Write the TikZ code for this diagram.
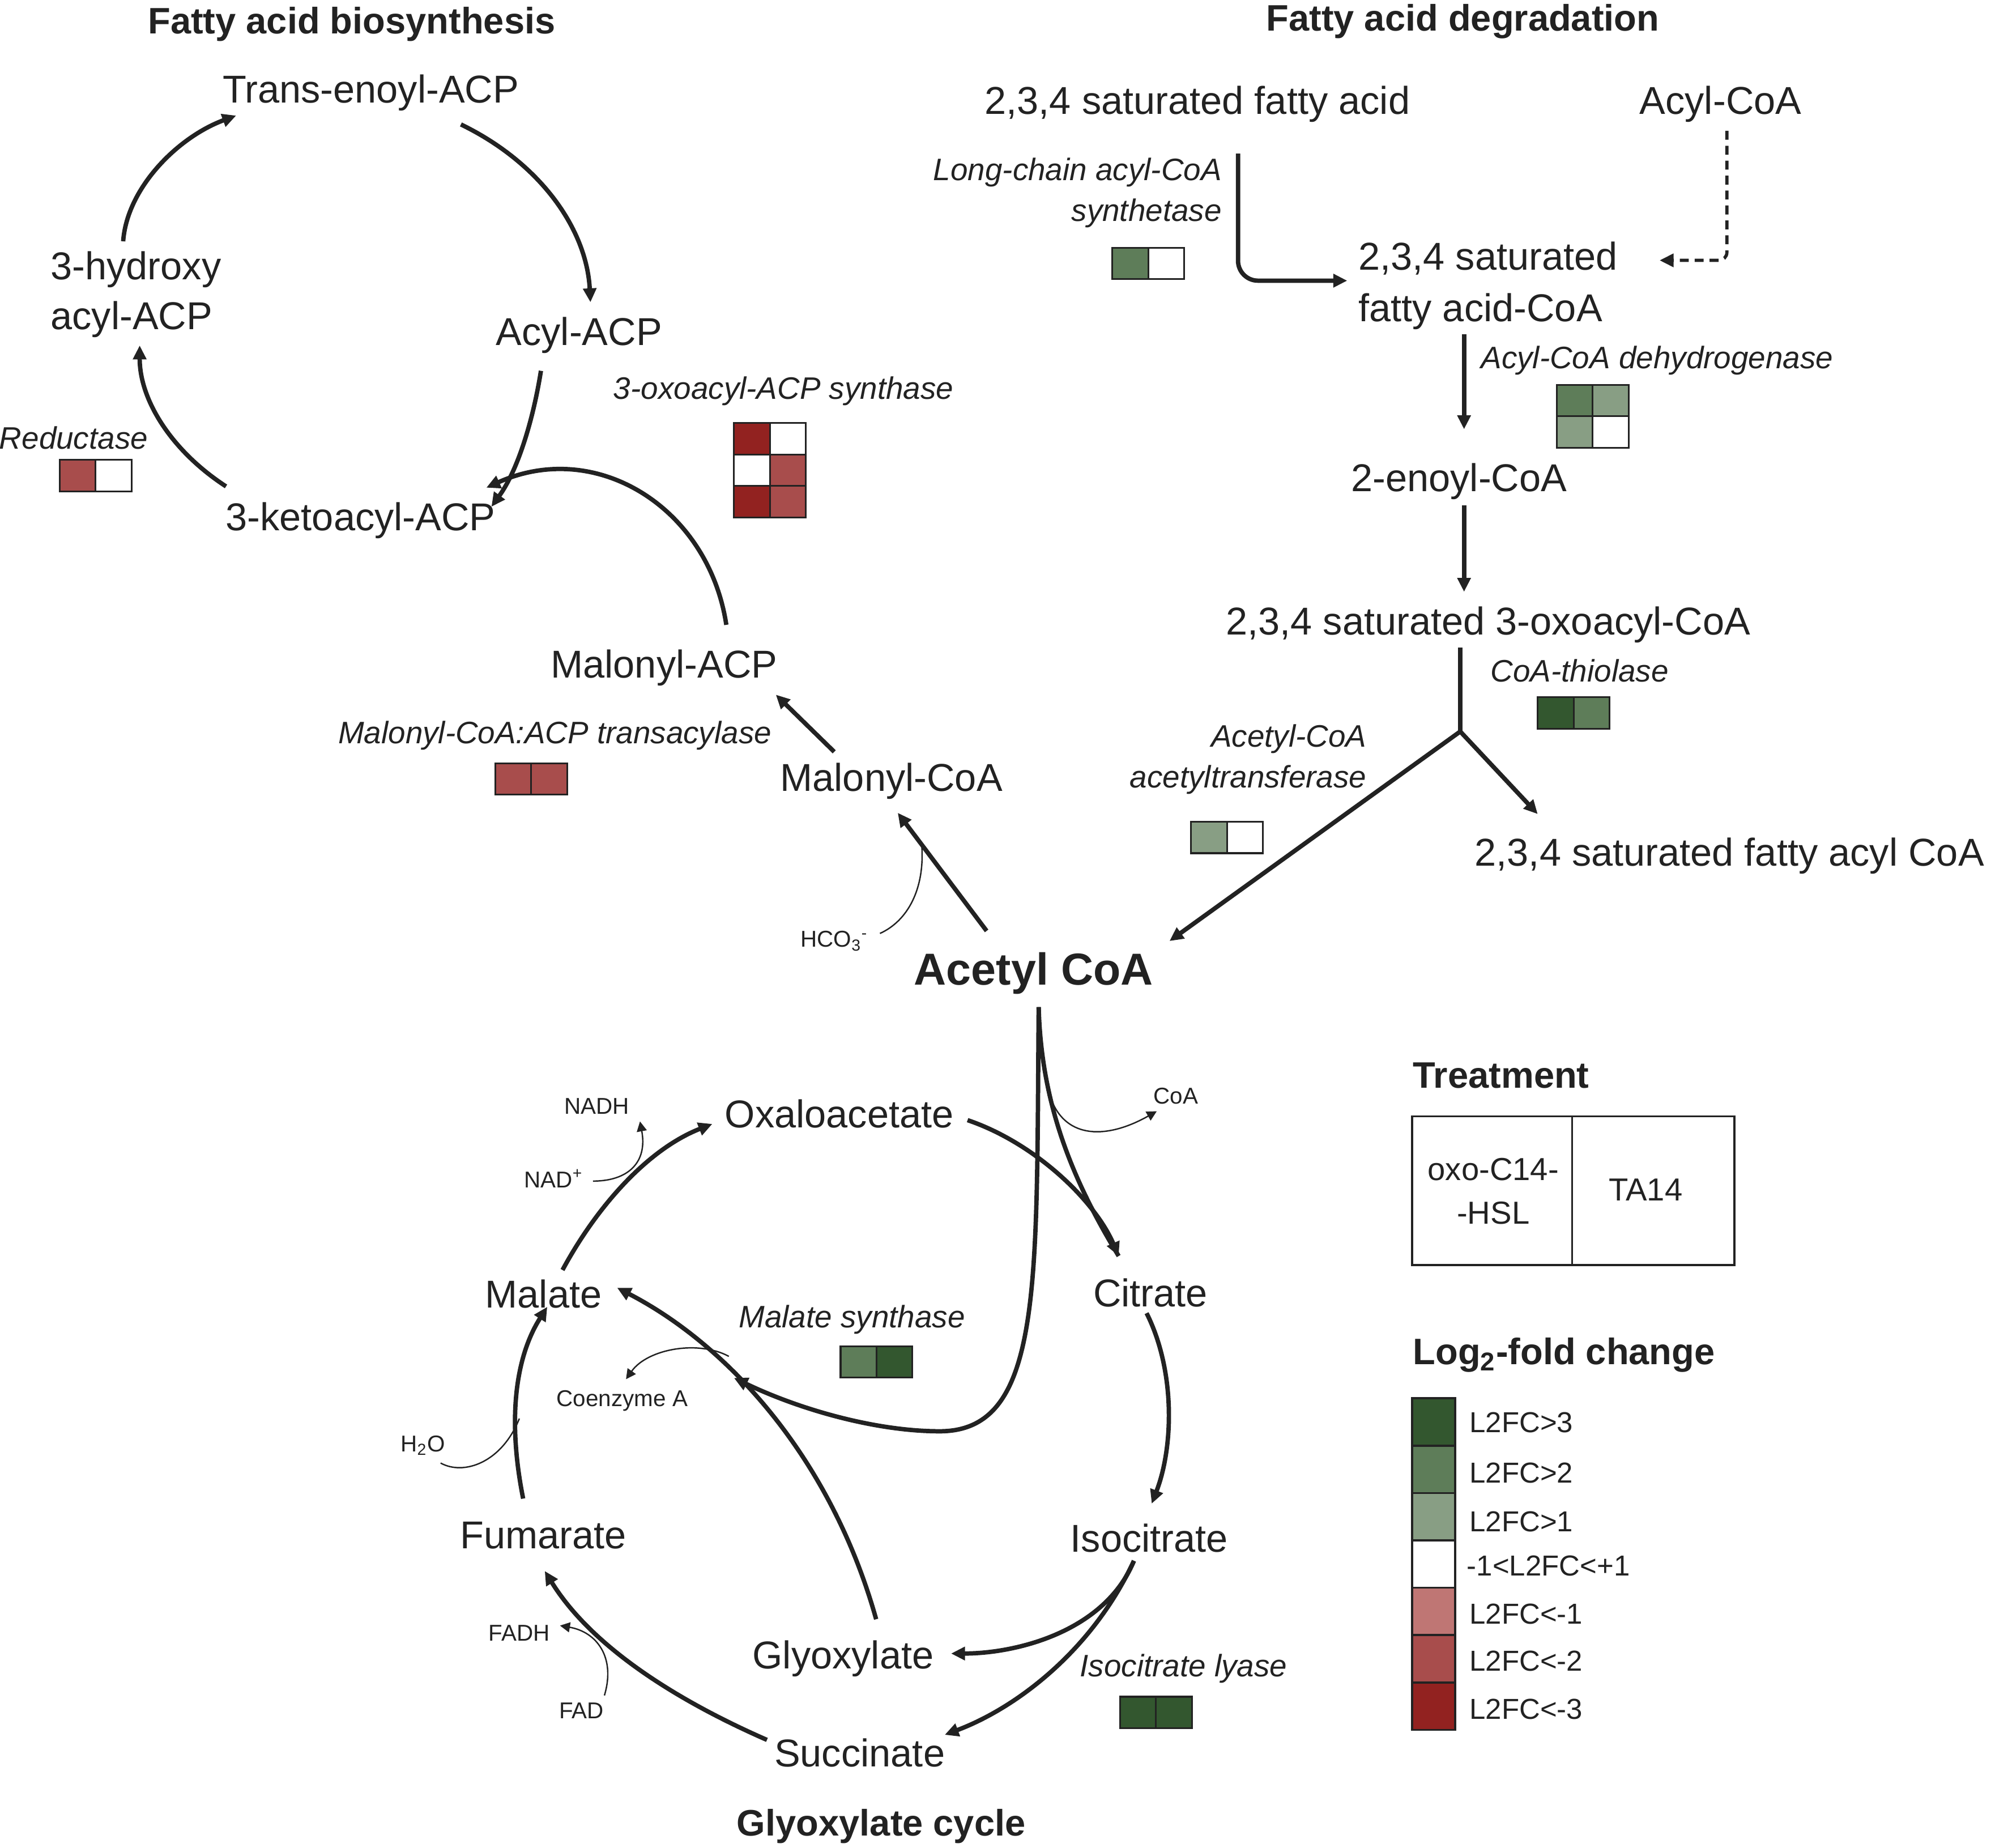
\documentclass[tikz,border=0pt]{standalone}
\usepackage{fontspec}
\setmainfont{Liberation Sans}
\usetikzlibrary{arrows.meta}
\definecolor{tc}{HTML}{222222}
\definecolor{dg}{HTML}{33572F}
\definecolor{mg}{HTML}{5E7D59}
\definecolor{lg}{HTML}{889E84}
\definecolor{lr}{HTML}{BF7674}
\definecolor{mr}{HTML}{A84D4C}
\definecolor{dr}{HTML}{922220}
\newcommand{\hcell}[3]{\filldraw[fill=#3,draw=tc,line width=0.9pt] (#1,#2) rectangle ++(28.3,24.8);}
\begin{document}
\begin{tikzpicture}[x=0.022417cm,y=-0.022417cm,
  met/.style={font=\fontsize{19.5}{24}\selectfont, text=tc, inner sep=1pt, yshift=-1.9pt},
  enz/.style={font=\fontsize{15.6}{20.5}\selectfont\itshape, text=tc, inner sep=1pt, yshift=-0.6pt},
  small/.style={font=\fontsize{11.5}{14}\selectfont, text=tc, inner sep=1pt},
  ttl/.style={font=\fontsize{18.5}{22}\selectfont\bfseries, text=tc, inner sep=1pt, yshift=-1.3pt},
  leg/.style={font=\fontsize{14.5}{17}\selectfont, text=tc, anchor=west, inner sep=0pt},
  arr/.style={draw=tc, line width=2.2pt, -{Triangle[length=7pt,width=6.5pt]}},
  thk/.style={draw=tc, line width=2.2pt},
  thin/.style={draw=tc, line width=0.7pt},
  tarr/.style={thin, -{Triangle[length=5pt,width=5pt]}}
]
\useasboundingbox (0,0) rectangle (1568,1455);

% ---------- titles ----------
\node[ttl] (t1) at (277,17) {Fatty acid biosynthesis};
\node[ttl] (t2) at (1152,15) {Fatty acid degradation};
\node[ttl] (t3) at (694,1436) {Glyoxylate cycle};

% ---------- fatty acid biosynthesis ----------
\node[met] (tenoyl) at (292,70) {Trans-enoyl-ACP};
\node[met] (acylacp) at (456,261) {Acyl-ACP};
\node[met] (keto) at (284,407) {3-ketoacyl-ACP};
\node[met, anchor=west, align=left, font=\fontsize{19.5}{25}\selectfont] (hydroxy) at (38,229) {3-hydroxy\\acyl-ACP};
\node[met] (malacp) at (523,523) {Malonyl-ACP};
\node[met] (malcoa) at (702,612) {Malonyl-CoA};
\node[font=\fontsize{22.5}{27}\selectfont\bfseries, text=tc, yshift=-1.5pt] (acetyl) at (814,764) {Acetyl CoA};

\node[enz] (red) at (58,344) {Reductase};
\hcell{47}{362}{mr}\hcell{75.3}{362}{white}
\node[enz] (oxs) at (617,307) {3-oxoacyl-ACP synthase};
\hcell{578}{333}{dr}\hcell{606.3}{333}{white}
\hcell{578}{357.8}{white}\hcell{606.3}{357.8}{mr}
\hcell{578}{382.6}{dr}\hcell{606.3}{382.6}{mr}
\node[enz] (mct) at (437,578) {Malonyl-CoA:ACP transacylase};
\hcell{390}{601}{mr}\hcell{418.3}{601}{mr}

\coordinate (a1s) at (363,98);  \coordinate (a1e) at (465,238);
\draw[arr] (a1s) .. controls (425,128) and (462,180) .. (a1e);
\coordinate (a2s) at (426,292); \coordinate (a2e) at (387,399);
\draw[arr] (a2s) .. controls (420,330) and (408,370) .. (a2e);
\coordinate (a3s) at (178,383); \coordinate (a3e) at (110,272);
\draw[arr] (a3s) .. controls (135,355) and (110,315) .. (a3e);
\coordinate (a4s) at (97,190);  \coordinate (a4e) at (186,91);
\draw[arr] (a4s) .. controls (100,148) and (140,108) .. (a4e);
\coordinate (a5s) at (572,492); \coordinate (a5e) at (383,384);
\draw[arr] (a5s) .. controls (558,400) and (470,345) .. (a5e);
\coordinate (a6s) at (657,592); \coordinate (a6e) at (611,547);
\draw[arr] (a6s) -- (a6e);
\coordinate (a7s) at (777,733); \coordinate (a7e) at (707,640);
\draw[arr] (a7s) -- (a7e);
\node[small] (hco) at (657,741) {HCO\textsubscript{3}\textsuperscript{-}};
\coordinate (hs) at (693,735); \coordinate (he) at (726,667);
\draw[thin] (hs) .. controls (715,725) and (728,700) .. (he);

% ---------- fatty acid degradation ----------
\node[met] (sfa) at (943,79) {2,3,4 saturated fatty acid};
\node[met] (acylcoa) at (1355,79) {Acyl-CoA};
\node[enz, anchor=east, align=right] (lcs) at (964,151) {Long-chain acyl-CoA\\synthetase};
\hcell{876}{195}{mg}\hcell{904.3}{195}{white}
\node[met, anchor=west, align=left, font=\fontsize{19.5}{26}\selectfont] (sfacoa) at (1068,222) {2,3,4 saturated\\fatty acid-CoA};
\coordinate (b1s) at (975,121); \coordinate (b1c) at (975,221); \coordinate (b1e) at (1061,221);
\draw[arr, rounded corners=10pt] (b1s) -- (b1c) -- (b1e);
\coordinate (b2s) at (1360,103); \coordinate (b2c) at (1360,205); \coordinate (b2e) at (1307,205);
\draw[arr, line width=1.6pt, dash pattern=on 4.5pt off 3pt, rounded corners=4pt] (b2s) -- (b2c) -- (b2e);
\node[enz] (acd) at (1305,283) {Acyl-CoA dehydrogenase};
\hcell{1226}{303}{mg}\hcell{1254.3}{303}{lg}
\hcell{1226}{327.8}{lg}\hcell{1254.3}{327.8}{white}
\node[met] (enoyl) at (1149,376) {2-enoyl-CoA};
\coordinate (b3s) at (1153,263); \coordinate (b3e) at (1153,338);
\draw[arr] (b3s) -- (b3e);
\node[met] (oxoacyl) at (1172,489) {2,3,4 saturated 3-oxoacyl-CoA};
\coordinate (b4s) at (1153,398); \coordinate (b4e) at (1153,466);
\draw[arr] (b4s) -- (b4e);
\node[enz] (thio) at (1244,527) {CoA-thiolase};
\hcell{1211}{549}{dg}\hcell{1239.3}{549}{mg}
\node[enz, anchor=east, align=right] (acat) at (1078,597) {Acetyl-CoA\\acetyltransferase};
\hcell{938}{647}{lg}\hcell{966.3}{647}{white}
\node[met] (fattyacyl) at (1362,671) {2,3,4 saturated fatty acyl CoA};
\coordinate (b5s) at (1150,510); \coordinate (jn) at (1150,576);
\draw[thk] (b5s) -- (jn);
\coordinate (b6e) at (1211,641);
\draw[arr] (jn) -- (b6e);
\coordinate (b7e) at (921,741);
\draw[arr] (jn) -- (b7e);

% ---------- glyoxylate cycle ----------
\node[met] (oxalo) at (661,874) {Oxaloacetate};
\node[met] (citrate) at (906,1015) {Citrate};
\node[met] (isocit) at (905,1208) {Isocitrate};
\node[met] (succ) at (677,1377) {Succinate};
\node[met] (glyox) at (664,1303) {Glyoxylate};
\node[met] (fum) at (428,1206) {Fumarate};
\node[met] (malate) at (428,1016) {Malate};

\node[small] (coa) at (926,863) {CoA};
\node[small] (nadh) at (470,871) {NADH};
\node[small] (nad) at (436,928) {NAD\textsuperscript{+}};
\node[small] (coenz) at (490,1103) {Coenzyme A};
\node[small] (water) at (333,1138) {H\textsubscript{2}O};
\node[small] (fadh) at (409,1286) {FADH};
\node[small] (fad) at (458,1347) {FAD};

\node[enz] (msyn) at (671,1038) {Malate synthase};
\hcell{662}{1060}{mg}\hcell{690.3}{1060}{dg}
\node[enz] (icl) at (932,1313) {Isocitrate lyase};
\hcell{882}{1336}{dg}\hcell{910.3}{1336}{dg}

\coordinate (ac) at (818,793);
\coordinate (c1s) at (762,882); \coordinate (c1e) at (881,989);
\draw[arr] (c1s) .. controls (815,900) and (862,945) .. (c1e);
\draw[thk] (ac) .. controls (820,870) and (845,930) .. (c1e);
\coordinate (c3e) at (578,1085);
\draw[arr] (ac) .. controls (816,1010) and (822,1127) .. (740,1127) .. controls (690,1127) and (630,1110) .. (c3e);
\coordinate (coas) at (828,866); \coordinate (coae) at (911,875);
\draw[tarr] (coas) .. controls (840,897) and (872,897) .. (coae);
\coordinate (c4s) at (903,1034); \coordinate (c4e) at (907,1184);
\draw[arr] (c4s) .. controls (926,1080) and (924,1140) .. (c4e);
\coordinate (c5s) at (893,1229); \coordinate (c5e) at (749,1302);
\draw[arr] (c5s) .. controls (870,1285) and (800,1302) .. (c5e);
\coordinate (c6e) at (744,1366);
\draw[arr] (c5s) .. controls (860,1300) and (800,1345) .. (c6e);
\coordinate (c7s) at (690,1275); \coordinate (c7e) at (486,1014);
\draw[arr] (c7s) .. controls (655,1150) and (575,1060) .. (c7e);
\coordinate (ces) at (574,1068); \coordinate (cee) at (493,1086);
\draw[tarr] (ces) .. controls (550,1055) and (510,1062) .. (cee);
\coordinate (c8s) at (604,1370); \coordinate (c8e) at (429,1237);
\draw[arr] (c8s) .. controls (540,1342) and (468,1300) .. (c8e);
\coordinate (fs) at (476,1335); \coordinate (fe) at (441,1280);
\draw[tarr] (fs) .. controls (485,1305) and (470,1285) .. (fe);
\coordinate (c9s) at (412,1180); \coordinate (c9e) at (431,1029);
\draw[arr] (c9s) .. controls (400,1120) and (405,1070) .. (c9e);
\coordinate (ws) at (347,1152); \coordinate (we) at (409,1117);
\draw[thin] (ws) .. controls (365,1162) and (395,1152) .. (we);
\coordinate (c10s) at (443,1000); \coordinate (c10e) at (561,885);
\draw[arr] (c10s) .. controls (470,950) and (510,905) .. (c10e);
\coordinate (ns) at (467,930); \coordinate (ne) at (504,883);
\draw[tarr] (ns) .. controls (495,930) and (510,915) .. (ne);

% ---------- legend ----------
\node[ttl, anchor=west] (treat) at (1111,845) {Treatment};
\draw[tc, line width=1pt] (1112,879) rectangle (1366,996);
\draw[tc, line width=1pt] (1238,879) -- (1238,996);
\node[font=\fontsize{16}{22}\selectfont, text=tc, align=center] (oxo) at (1176,938) {oxo-C14-\\-HSL};
\node[font=\fontsize{16}{22}\selectfont, text=tc] (ta) at (1296,937) {TA14};
\node[ttl, anchor=west] (lfc) at (1111,1065) {Log\textsubscript{2}-fold change};
\foreach \c [count=\i from 0] in {dg,mg,lg,white,lr,mr,dr}{
  \filldraw[fill=\c, draw=tc, line width=1pt] (1112,1101+\i*37.3) rectangle (1146,1101+\i*37.3+37.3);
}
\node[leg] (l1) at (1157,1120) {L2FC>3};
\node[leg] (l2) at (1157,1160) {L2FC>2};
\node[leg] (l3) at (1157,1198) {L2FC>1};
\node[leg] (l4) at (1155,1233) {-1<L2FC<+1};
\node[leg] (l5) at (1157,1271) {L2FC<-1};
\node[leg] (l6) at (1157,1308) {L2FC<-2};
\node[leg] (l7) at (1157,1346) {L2FC<-3};
\end{tikzpicture}
\end{document}
